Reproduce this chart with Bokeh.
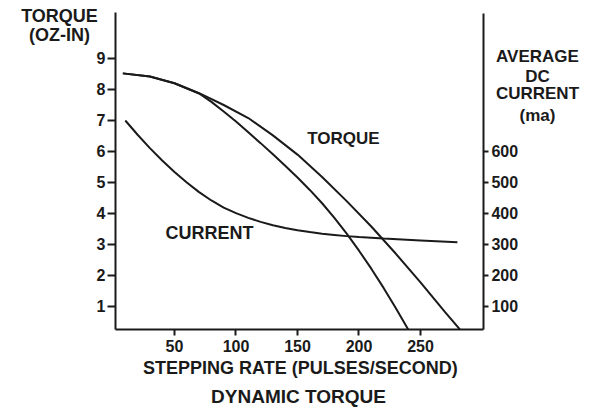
from bokeh.plotting import figure
from bokeh.models import Range1d, LinearAxis, Label, FixedTicker
from bokeh.embed import file_html
from bokeh.resources import INLINE

# Stepping rate (pulses/second) and readings
rate_torque_a = [8, 30, 50, 70, 90, 110, 130, 150, 170, 190, 210, 230, 250, 270, 282]
torque_a = [8.52, 8.42, 8.2, 7.88, 7.5, 7.08, 6.52, 5.9, 5.18, 4.4, 3.58, 2.7, 1.78, 0.82, 0.26]

rate_torque_b = [8, 30, 50, 70, 80, 90, 100, 110, 120, 130, 140, 150, 160, 170, 180, 190, 200, 210, 220, 230, 240]
torque_b = [8.52, 8.42, 8.2, 7.87, 7.6, 7.29, 6.97, 6.62, 6.27, 5.91, 5.54, 5.16, 4.76, 4.33, 3.86, 3.35, 2.8, 2.22, 1.6, 0.94, 0.26]

rate_current = [10, 20, 30, 40, 50, 60, 70, 80, 90, 100, 110, 120, 130, 140, 150, 160, 170, 180, 190, 200, 220, 250, 280]
current_ma = [700, 654, 611, 571, 534, 500, 469, 442, 419, 401, 386, 373, 362, 353, 346, 340, 335, 331, 327, 324, 319, 313, 307]

x_ticks = [50, 100, 150, 200, 250]
torque_ticks = [1, 2, 3, 4, 5, 6, 7, 8, 9]
current_ticks = [100, 200, 300, 400, 500, 600]

INK = "#1a1a1a"
FONT = "Liberation Sans"

X0, X1 = 2.03, 301.2      # extent of the stepping-rate axis
Y0, Y1 = 0.258, 10.48     # extent of the torque axis

p = figure(width=589, height=409, output_backend="svg", toolbar_location=None,
           x_range=Range1d(-91.46, 387.4), y_range=Range1d(-2.323, 10.871),
           min_border=0, min_border_left=0, min_border_right=0,
           min_border_top=0, min_border_bottom=0)
p.extra_y_ranges = {"ma": Range1d(-232.3, 1087.1)}
p.outline_line_color = None
p.grid.visible = False
p.title.visible = False
p.background_fill_color = "white"
p.border_fill_color = "white"

def style_axis(ax, tick_out, standoff):
    ax.axis_line_width = 2
    ax.axis_line_color = INK
    ax.major_tick_line_width = 2
    ax.major_tick_line_color = INK
    ax.major_tick_in = 0
    ax.major_tick_out = tick_out
    ax.minor_tick_line_color = None
    ax.major_label_text_font = FONT
    ax.major_label_text_font_style = "bold"
    ax.major_label_text_font_size = "16px"
    ax.major_label_text_color = INK
    ax.major_label_standoff = standoff

xa = p.xaxis[0]
xa.ticker = FixedTicker(ticks=x_ticks)
xa.fixed_location = Y0
xa.bounds = (X0, X1)
style_axis(xa, 6, 5)

ya = p.yaxis[0]
ya.ticker = FixedTicker(ticks=torque_ticks)
ya.fixed_location = X0
ya.bounds = (Y0, Y1)
style_axis(ya, 8, 2)

ra = LinearAxis(y_range_name="ma", ticker=FixedTicker(ticks=current_ticks))
ra.fixed_location = X1
ra.bounds = (25.8, 1045)
style_axis(ra, 5, 3)
p.add_layout(ra, "right")

p.line(rate_torque_a, torque_a, line_color=INK, line_width=2)
p.line(rate_torque_b, torque_b, line_color=INK, line_width=2)
p.line(rate_current, current_ma, y_range_name="ma", line_color=INK, line_width=2)

def lab(x, y, text, size="17px"):
    p.add_layout(Label(x=x, y=y, text=text, text_align="center", text_baseline="middle",
                       text_font=FONT, text_font_style="bold", text_font_size=size,
                       text_color=INK))

lab(-43.5, 10.355, "TORQUE", "18px")
lab(-43.5, 9.742, "(OZ-IN)", "18px")
lab(345.1, 9.065, "AVERAGE", "17px")
lab(345.1, 8.419, "DC", "17px")
lab(345.1, 7.871, "CURRENT", "17px")
lab(345.1, 7.161, "(ma)", "17px")
lab(187.4, 6.419, "TORQUE", "17px")
lab(78.5, 3.355, "CURRENT", "18px")
lab(152.4, -1.0, "STEPPING RATE (PULSES/SECOND)", "18px")
lab(150.8, -1.905, "DYNAMIC TORQUE", "19px")

open("out.html", "w").write(file_html(p, INLINE))
